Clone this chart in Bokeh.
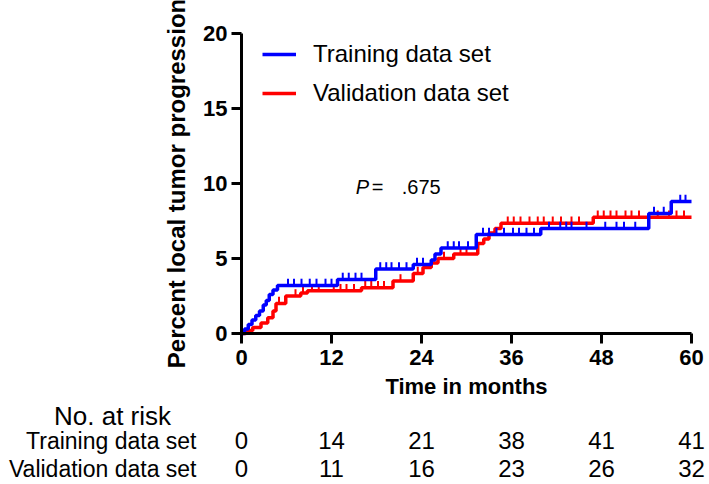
import numpy as np
from bokeh.plotting import figure
from bokeh.models import (Range1d, FixedTicker, Label, ColumnDataSource, Legend, LegendItem,
                          LinearAxis)
from bokeh.embed import file_html
from bokeh.resources import INLINE
from bokeh.core.properties import value

FONT = "Liberation Sans"
BLUE = "#0000FF"
RED = "#FF0000"

# ---- data ----
train_t = [0, 0.4, 0.9, 1.4, 1.9, 2.4, 2.9, 3.3, 3.7, 4.2, 4.8, 12.8, 17.9, 22.9, 25.3, 25.8,
           26.6, 31.3, 39.9, 54.3, 57.3, 60]
train_pct = [0, 0.3, 0.6, 0.9, 1.2, 1.5, 1.9, 2.2, 2.6, 2.9, 3.2, 3.6, 4.3, 4.6, 4.9, 5.3,
             5.7, 6.6, 7.0, 8.0, 8.8, 8.8]
valid_t = [0, 0.6, 1.5, 2.6, 3.5, 4.2, 4.6, 5.9, 7.9, 8.8, 16.0, 20.2, 22.9, 24.2, 25.3,
           26.2, 28.3, 31.5, 32.3, 33.0, 33.8, 34.6, 46.9, 60]
valid_pct = [0, 0.2, 0.4, 0.7, 1.05, 1.5, 2.0, 2.5, 2.7, 2.85, 3.05, 3.5, 4.0, 4.4, 4.7,
             5.0, 5.3, 6.0, 6.3, 6.7, 7.0, 7.35, 7.75, 7.75]
train_cens = [6.2, 7.0, 8.0, 9.1, 10.0, 11.2, 12.0, 13.5, 14.3, 15.2, 16.0, 18.5, 19.3, 20.0,
              21.0, 22.0, 23.4, 24.2, 27.5, 28.3, 29.0, 30.2, 32.2, 33.0, 34.0, 35.0, 36.2,
              37.0, 38.0, 39.0, 41.0, 42.5, 43.3, 44.0, 46.0, 48.5, 50.0, 51.0, 52.5, 55.0,
              56.3, 58.5, 59.2]
valid_cens = [5.0, 7.2, 8.2, 9.4, 10.3, 12.3, 13.2, 14.0, 15.0, 16.5, 17.3, 18.2, 19.0, 21.2,
              23.5, 27.0, 29.2, 30.0, 35.5, 36.3, 37.2, 38.4, 39.5, 40.3, 41.5, 42.6, 44.0,
              45.0, 47.5, 48.3, 49.2, 50.0, 51.2, 52.0, 53.0, 55.5, 57.0, 58.0, 59.0]
x_ticks = [0, 12, 24, 36, 48, 60]
y_ticks = [0, 5, 10, 15, 20]
risk_train = [0, 14, 21, 38, 41, 41]
risk_valid = [0, 11, 16, 23, 26, 32]
series_names = ["Training data set", "Validation data set"]
risk_title = "No. at risk"
p_value_text = ".675"

# ---- geometry (pixels) ----
W, H = 709, 484
X0_PX, X60_PX = 241, 691          # where months 0 and 60 fall
Y0_PX, Y20_PX = 333, 33           # where 0 % and 20 % fall (from top)
PXM = (X60_PX - X0_PX) / 60.0     # pixels per month
PXP = (Y0_PX - Y20_PX) / 20.0     # pixels per percent


def step_value(times, vals, c):
    idx = np.searchsorted(np.asarray(times), np.asarray(c), side="right") - 1
    return np.asarray(vals)[idx]


p = figure(width=W, height=H, output_backend="svg", toolbar_location=None,
           x_range=Range1d(-X0_PX / PXM, (W - X0_PX) / PXM),
           y_range=Range1d(-(H - Y0_PX) / PXP, Y0_PX / PXP),
           x_axis_type=None, y_axis_type=None,
           min_border_left=0, min_border_right=0, min_border_top=0, min_border_bottom=0)
p.outline_line_color = None
p.xgrid.visible = False
p.ygrid.visible = False

xaxis = LinearAxis(fixed_location=0, bounds=(0, 60), ticker=FixedTicker(ticks=x_ticks),
                   axis_label="Time in months")
yaxis = LinearAxis(fixed_location=0, bounds=(0, 20), ticker=FixedTicker(ticks=y_ticks),
                   axis_label="Percent local tumor progression")
p.add_layout(xaxis, "below")
p.add_layout(yaxis, "left")

for ax in (xaxis, yaxis):
    ax.axis_line_width = 3
    ax.major_tick_line_width = 3
    ax.major_tick_out = 10
    ax.major_tick_in = 0
    ax.minor_tick_out = 0
    ax.minor_tick_in = 0
    ax.major_label_text_font = FONT
    ax.major_label_text_font_size = "22px"
    ax.major_label_text_font_style = "bold"
    ax.major_label_text_color = "black"
    ax.axis_label_text_font = FONT
    ax.axis_label_text_font_style = "bold"
    ax.axis_label_text_color = "black"

xaxis.major_label_standoff = 6
yaxis.major_label_standoff = 4
xaxis.axis_label_text_font_size = "22px"
xaxis.axis_label_standoff = 6
yaxis.axis_label_text_font_size = "24px"
yaxis.axis_label_standoff = 10

r_valid = p.step(valid_t, valid_pct, mode="after", line_color=RED, line_width=3.5)
s_valid = p.scatter(valid_cens, step_value(valid_t, valid_pct, valid_cens) + 0.22,
                    marker="dash", angle=np.pi / 2, size=7, line_color=RED, line_width=2)
r_train = p.step(train_t, train_pct, mode="after", line_color=BLUE, line_width=3.5)
s_train = p.scatter(train_cens, step_value(train_t, train_pct, train_cens) + 0.22,
                    marker="dash", angle=np.pi / 2, size=7, line_color=BLUE, line_width=2)

legend = Legend(items=[LegendItem(label=series_names[0], renderers=[r_train, s_train]),
                       LegendItem(label=series_names[1], renderers=[r_valid, s_valid])],
                location=(X0_PX + 21, (H - Y0_PX) + 225), orientation="vertical",
                glyph_width=34, glyph_height=30, label_height=30, spacing=9, padding=0,
                margin=0, label_standoff=17, label_text_font=FONT,
                label_text_font_size="24px", label_text_color="black",
                border_line_alpha=0, background_fill_alpha=0)
p.add_layout(legend)

# P value
for xx, txt, style in ((15.24, "P", "italic"), (17.37, "=", "normal"),
                       (21.37, p_value_text, "normal")):
    p.add_layout(Label(x=xx, y=9.75, text=txt, text_font=FONT, text_font_size="20px",
                       text_font_style=style, text_baseline="middle", text_color="black"))

# ---- number-at-risk table (same horizontal scale as the plot) ----
head_y = (Y0_PX - 415) / PXP
row_y = [(Y0_PX - 440) / PXP, (Y0_PX - 468) / PXP]
name_x = (196 - X0_PX) / PXM
head_x = (112 - X0_PX) / PXM

head_src = ColumnDataSource(dict(x=[head_x], y=[head_y], text=[risk_title]))
p.text(x="x", y="y", text="text", source=head_src, text_font=value(FONT),
       text_font_size="26px", text_align="center", text_baseline="middle",
       text_color="black")
name_src = ColumnDataSource(dict(x=[name_x, name_x], y=row_y, text=series_names))
p.text(x="x", y="y", text="text", source=name_src, text_font=value(FONT),
       text_font_size="23px", text_align="right", text_baseline="middle",
       text_color="black")
for counts, yrow in ((risk_train, row_y[0]), (risk_valid, row_y[1])):
    src = ColumnDataSource(dict(x=x_ticks, y=[yrow] * len(x_ticks),
                                text=[str(c) for c in counts]))
    p.text(x="x", y="y", text="text", source=src, text_font=value(FONT),
           text_font_size="24px", text_align="center", text_baseline="middle",
           text_color="black")

open("out.html", "w").write(file_html(p, INLINE))
